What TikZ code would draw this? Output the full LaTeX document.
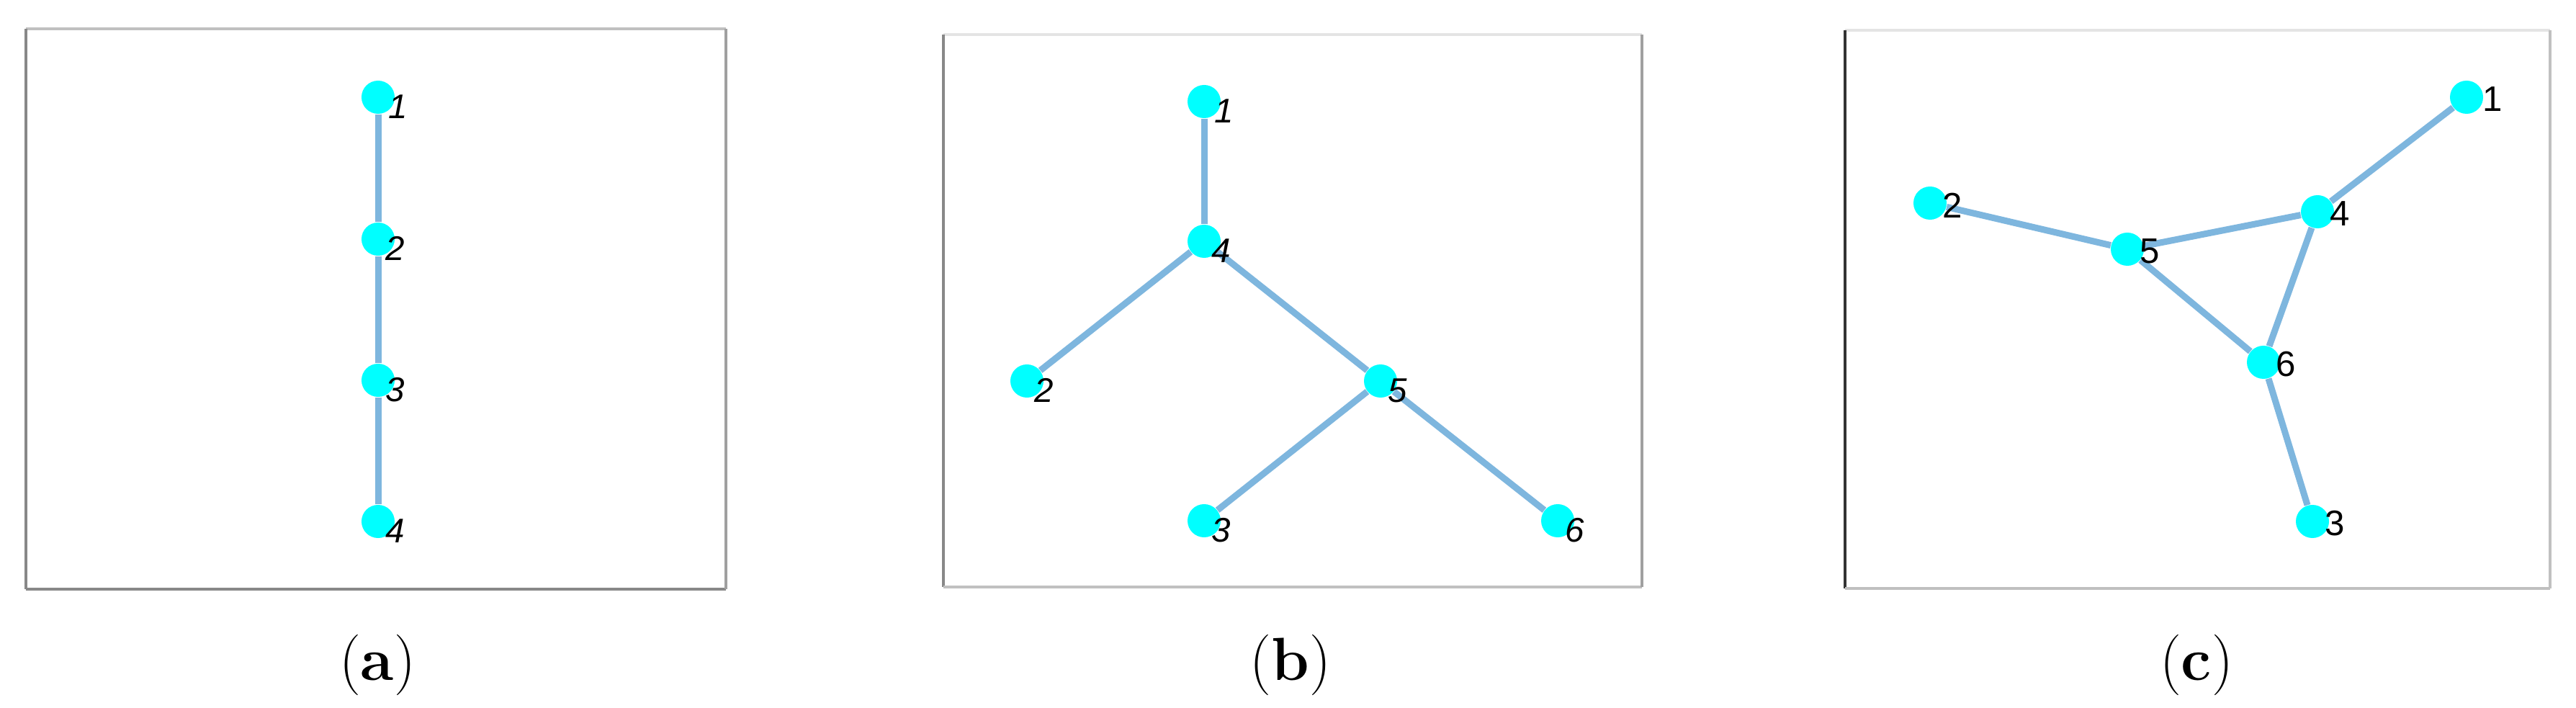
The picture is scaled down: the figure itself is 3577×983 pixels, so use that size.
\documentclass[tikz,border=0pt]{standalone}
\usepackage{fontspec}
\newfontfamily\labfont{Liberation Sans}
\usetikzlibrary{positioning, calc}
\definecolor{vxcyan}{RGB}{0,255,255}
\definecolor{edblue}{RGB}{126,182,222}
\definecolor{bxdark}{RGB}{136,136,136}
\definecolor{bxlight}{RGB}{192,192,192}
\definecolor{bxpale}{RGB}{228,228,228}
\tikzset{
  VX/.style={circle,fill=vxcyan,draw=none,minimum size=0.46cm,inner sep=0pt},
  ED/.style={edblue,line width=0.09cm},
  LB/.style={font=\fontsize{13.5}{15}\labfont\itshape,anchor=west,inner sep=0pt},
  LBc/.style={font=\fontsize{14}{16}\labfont,anchor=west,inner sep=0pt},
  BX/.style={line width=0.035cm},
  CAP/.style={font=\fontsize{24}{28}\selectfont,anchor=base,inner sep=0pt},
}

\begin{document}
\begin{tikzpicture}[x=0.01cm,y=-0.01cm]
\useasboundingbox (0,0) rectangle (3577,983);

% Panel (a): path
\draw[BX,bxlight](36,40)--(1008,40);
\draw[BX,bxdark](36,40)--(36,818);
\draw[BX,bxdark](36,818)--(1008,818);
\draw[BX,bxdark!80](1008,40)--(1008,818);
\node[VX](a1) at (525,135){};
\node[VX](a2) at (525,332){};
\node[VX](a3) at (525,528){};
\node[VX](a4) at (525,724){};
\draw[ED](a1)--(a2);
\draw[ED](a2)--(a3);
\draw[ED](a3)--(a4);
\node[LB](la1) at ($(a1)+(14,13)$){1};
\node[LB](la2) at ($(a2)+(10,13)$){2};
\node[LB](la3) at ($(a3)+(10,13)$){3};
\node[LB](la4) at ($(a4)+(10,13)$){4};
\node[CAP](capa) at (524,945){(\textbf{a})};

% Panel (b): tree
\draw[BX,bxpale](1310,48)--(2280,48);
\draw[BX,bxdark](1310,48)--(1310,815);
\draw[BX,bxlight](1310,815)--(2280,815);
\draw[BX,bxdark!80](2280,48)--(2280,815);
\node[VX](b1) at (1672,141){};
\node[VX](b4) at (1672,335){};
\node[VX](b2) at (1426,529){};
\node[VX](b5) at (1917,529){};
\node[VX](b3) at (1672,723){};
\node[VX](b6) at (2163,723){};
\draw[ED](b1)--(b4);
\draw[ED](b4)--(b2);
\draw[ED](b4)--(b5);
\draw[ED](b5)--(b3);
\draw[ED](b5)--(b6);
\node[LB](lb1) at ($(b1)+(14,13)$){1};
\node[LB](lb4) at ($(b4)+(10,13)$){4};
\node[LB](lb2) at ($(b2)+(10,13)$){2};
\node[LB](lb5) at ($(b5)+(10,13)$){5};
\node[LB](lb3) at ($(b3)+(10,13)$){3};
\node[LB](lb6) at ($(b6)+(10,13)$){6};
\node[CAP](capb) at (1792,945){(\textbf{b})};

% Panel (c): graph with a triangle
\draw[BX,bxpale](2562,42)--(3541,42);
\draw[BX,black!80](2562,42)--(2562,817);
\draw[BX,bxlight](2562,817)--(3541,817);
\draw[BX,bxlight](3541,42)--(3541,817);
\node[VX](c1) at (3425,135){};
\node[VX](c2) at (2680,282){};
\node[VX](c4) at (3218,294){};
\node[VX](c5) at (2954,346){};
\node[VX](c6) at (3143,503){};
\node[VX](c3) at (3211,724){};
\draw[ED](c1)--(c4);
\draw[ED](c2)--(c5);
\draw[ED](c5)--(c4);
\draw[ED](c5)--(c6);
\draw[ED](c4)--(c6);
\draw[ED](c6)--(c3);
\node[LBc](lc1) at ($(c1)+(22,3)$){1};
\node[LBc](lc2) at ($(c2)+(17,3)$){2};
\node[LBc](lc4) at ($(c4)+(17,3)$){4};
\node[LBc](lc5) at ($(c5)+(17,3)$){5};
\node[LBc](lc6) at ($(c6)+(17,3)$){6};
\node[LBc](lc3) at ($(c3)+(17,3)$){3};
\node[CAP](capc) at (3050,945){(\textbf{c})};

\end{tikzpicture}
\end{document}
